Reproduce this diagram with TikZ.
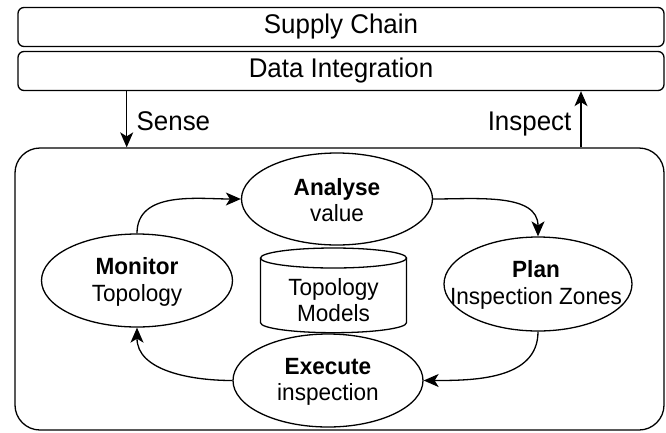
\documentclass[tikz,border=0pt]{standalone}
\usepackage{fontspec}
\setmainfont{Liberation Sans}[FakeStretch=0.96]
\usetikzlibrary{shapes.geometric,arrows.meta}
\begin{document}
\begin{tikzpicture}[x=1pt,y=1pt,
  line width=1.3pt,
  bar/.style={draw, rounded corners=6pt, minimum width=646pt, minimum height=39pt, inner sep=0pt, font=\fontsize{27}{30}\selectfont},
  proc/.style={draw, ellipse, inner sep=0pt},
  ptxt/.style={align=center, inner sep=0pt, font=\fontsize{23.5}{26.5}\selectfont},
  arr/.style={-{Stealth[length=15pt,width=13pt,inset=4pt]}},
  lbl/.style={font=\fontsize{27}{30}\selectfont, inner sep=0pt}]
\useasboundingbox (0,0) rectangle (666,-432);
% top bars
\node[bar] (sc) at (341,-27) {Supply Chain};
\node[bar] (di) at (341,-71) {Data Integration};
% outer frame
\node[draw, rounded corners=25pt, minimum width=649pt, minimum height=282pt, inner sep=0pt] (outer) at (339.5,-289) {};
% sense / inspect
\coordinate (sx) at (126.7,0);
\coordinate (ix) at (581,0);
\draw[arr] (di.south -| sx) -- (outer.north -| sx);
\draw[arr] (outer.north -| ix) -- (di.south -| ix);
\node[lbl, anchor=base west] (sense) at (136,-130) {Sense};
\node[lbl, anchor=base east] (insp) at (572,-130.5) {Inspect};
% processes
\node[proc, minimum width=191pt, minimum height=92pt] (an) at (337,-199) {};
\node[proc, minimum width=191pt, minimum height=93pt] (mo) at (137,-280.5) {};
\node[proc, minimum width=188pt, minimum height=94pt] (pl) at (538,-284) {};
\node[proc, minimum width=190pt, minimum height=93pt] (ex) at (328,-380.5) {};
\node[ptxt] (ant) at (337,-200) {\textbf{Analyse}\\value};
\node[ptxt] (mot) at (137,-282) {\textbf{Monitor}\\Topology};
\node[ptxt] (plt) at (536,-285) {\textbf{Plan}\\Inspection Zones};
\node[ptxt] (ext) at (328,-382) {\textbf{Execute}\\inspection};
% cylinder
\draw (260.5,-258) -- (260.5,-322.7) arc[start angle=180, end angle=360, x radius=73, y radius=10] -- (406.5,-258);
\draw (333.5,-258) ellipse [x radius=73, y radius=10];
\node[ptxt] (db) at (333.5,-300) {Topology\\Models};
% cycle
\draw[arr] (mo.north) to[out=90,in=180] (an.west);
\draw[arr] (an.east) to[out=0,in=90] (pl.north);
\draw[arr] (pl.south) to[out=-90,in=0] (ex.east);
\draw[arr] (ex.west) to[out=180,in=-90] (mo.south);
\end{tikzpicture}
\end{document}
